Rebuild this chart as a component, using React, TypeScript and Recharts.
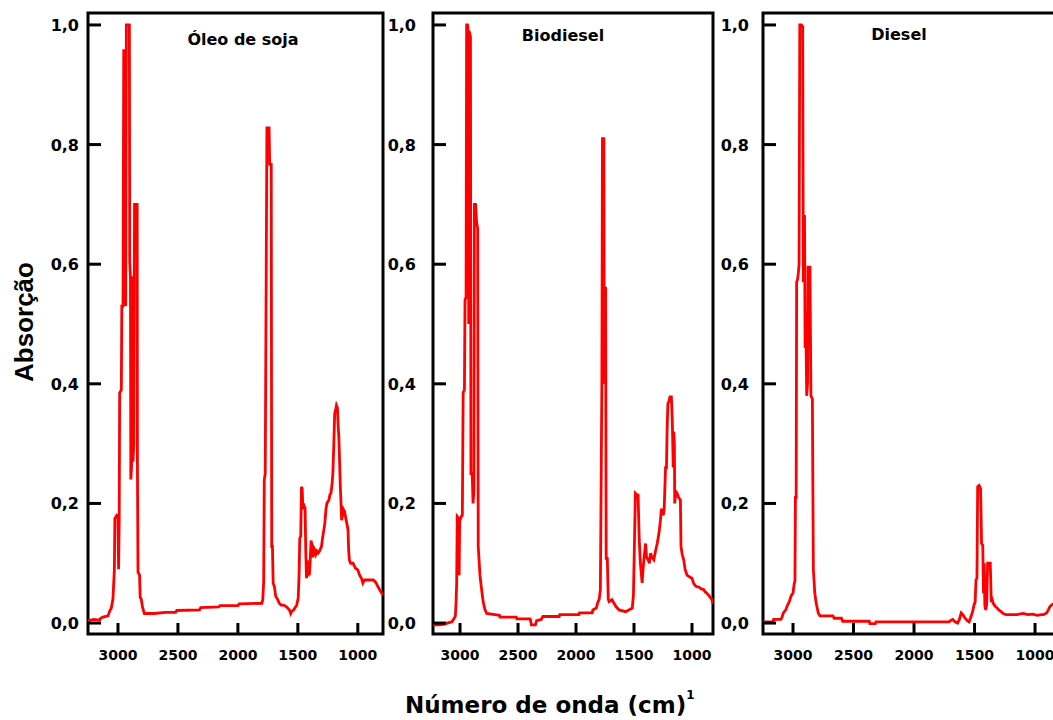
import { LineChart, Line, XAxis, YAxis, ReferenceArea } from "recharts";

type Pt = [number, number];

// wavenumber (cm-1), absorbance
const soyPoints: Pt[] = [
  [3250, 0.004], [3200, 0.006], [3153, 0.005], [3145, 0.008], [3125, 0.01], [3083, 0.012],
  [3069, 0.02], [3056, 0.025], [3042, 0.04], [3030, 0.09], [3026, 0.175], [3010, 0.18],
  [3000, 0.178], [2995, 0.09], [2990, 0.17], [2986, 0.385], [2972, 0.39], [2968, 0.53],
  [2958, 0.53], [2952, 0.957], [2940, 0.957], [2936, 0.53], [2930, 1.0], [2905, 1.0],
  [2902, 0.605], [2896, 0.58], [2893, 0.24], [2887, 0.26], [2884, 0.58], [2878, 0.56],
  [2875, 0.27], [2868, 0.3], [2862, 0.7], [2840, 0.7], [2838, 0.27], [2833, 0.085],
  [2820, 0.08], [2815, 0.043], [2806, 0.04], [2795, 0.026], [2780, 0.016], [2700, 0.016],
  [2600, 0.018], [2520, 0.018], [2510, 0.021], [2320, 0.022], [2310, 0.026], [2160, 0.027],
  [2150, 0.029], [2000, 0.029], [1990, 0.032], [1800, 0.033], [1792, 0.04], [1785, 0.07],
  [1780, 0.24], [1772, 0.25], [1766, 0.5], [1758, 0.828], [1740, 0.828], [1735, 0.767],
  [1722, 0.767], [1718, 0.128], [1712, 0.128], [1706, 0.067], [1695, 0.06], [1685, 0.045],
  [1670, 0.04], [1655, 0.033], [1640, 0.03], [1620, 0.03], [1600, 0.028], [1585, 0.025],
  [1570, 0.022], [1560, 0.016], [1550, 0.02], [1535, 0.022], [1525, 0.025], [1510, 0.03],
  [1497, 0.042], [1490, 0.08], [1484, 0.142], [1476, 0.145], [1470, 0.228], [1464, 0.225],
  [1458, 0.19], [1452, 0.2], [1446, 0.19], [1440, 0.195], [1434, 0.12], [1428, 0.075],
  [1422, 0.105], [1416, 0.078], [1410, 0.09], [1404, 0.08], [1398, 0.1], [1390, 0.138],
  [1382, 0.13], [1374, 0.11], [1366, 0.125], [1358, 0.122], [1350, 0.115], [1340, 0.12],
  [1331, 0.117], [1320, 0.12], [1310, 0.125], [1303, 0.128], [1292, 0.145], [1284, 0.155],
  [1275, 0.167], [1266, 0.19], [1258, 0.2], [1250, 0.203], [1242, 0.205], [1232, 0.215],
  [1224, 0.217], [1216, 0.23], [1208, 0.25], [1200, 0.3], [1193, 0.35], [1186, 0.355],
  [1178, 0.364], [1170, 0.36], [1164, 0.33], [1158, 0.31], [1152, 0.27], [1146, 0.228],
  [1140, 0.2], [1135, 0.172], [1128, 0.18], [1120, 0.19], [1110, 0.186], [1100, 0.175],
  [1090, 0.165], [1082, 0.156], [1076, 0.12], [1070, 0.105], [1060, 0.1], [1040, 0.1],
  [1020, 0.092], [1000, 0.089], [985, 0.08], [970, 0.075], [958, 0.067], [945, 0.072],
  [900, 0.072], [870, 0.072], [850, 0.068], [833, 0.061], [815, 0.055], [800, 0.05],
  [790, 0.047],
];

const biodieselPoints: Pt[] = [
  [3233, -0.003], [3180, -0.003], [3130, -0.002], [3110, 0.0], [3070, 0.002], [3050, 0.008],
  [3040, 0.012], [3034, 0.036], [3029, 0.066], [3024, 0.178], [3012, 0.175], [3008, 0.08],
  [3003, 0.17], [2990, 0.178], [2980, 0.18], [2973, 0.385], [2962, 0.39], [2957, 0.54],
  [2948, 0.545], [2943, 1.0], [2935, 1.0], [2930, 0.99], [2925, 0.5], [2921, 0.99],
  [2910, 0.98], [2906, 0.25], [2895, 0.25], [2888, 0.2], [2880, 0.22], [2876, 0.7],
  [2866, 0.7], [2857, 0.67], [2848, 0.66], [2843, 0.128], [2828, 0.08], [2814, 0.056],
  [2800, 0.035], [2786, 0.023], [2770, 0.016], [2700, 0.014], [2660, 0.013], [2655, 0.01],
  [2515, 0.01], [2510, 0.007], [2395, 0.007], [2385, -0.003], [2350, -0.003], [2340, 0.004],
  [2300, 0.006], [2286, 0.011], [2145, 0.011], [2140, 0.014], [1975, 0.014], [1970, 0.017],
  [1860, 0.017], [1855, 0.022], [1825, 0.025], [1815, 0.033], [1800, 0.04], [1790, 0.056],
  [1782, 0.27], [1777, 0.4], [1772, 0.81], [1760, 0.81], [1756, 0.4], [1752, 0.56],
  [1745, 0.56], [1740, 0.108], [1730, 0.108], [1722, 0.04], [1715, 0.036], [1690, 0.039],
  [1657, 0.028], [1629, 0.022], [1572, 0.019], [1515, 0.025], [1505, 0.047], [1488, 0.217],
  [1478, 0.215], [1465, 0.214], [1455, 0.139], [1445, 0.1], [1430, 0.067], [1422, 0.09],
  [1415, 0.106], [1400, 0.133], [1392, 0.11], [1378, 0.106], [1368, 0.1], [1357, 0.117],
  [1345, 0.11], [1329, 0.106], [1315, 0.12], [1300, 0.133], [1285, 0.15], [1272, 0.172],
  [1265, 0.189], [1258, 0.189], [1248, 0.18], [1240, 0.19], [1235, 0.22], [1228, 0.26],
  [1220, 0.26], [1215, 0.32], [1208, 0.367], [1200, 0.37], [1190, 0.378], [1178, 0.378],
  [1170, 0.34], [1162, 0.26], [1158, 0.32], [1152, 0.3], [1149, 0.2], [1140, 0.22],
  [1129, 0.217], [1115, 0.21], [1100, 0.206], [1095, 0.128], [1085, 0.115], [1072, 0.106],
  [1060, 0.09], [1043, 0.08], [1020, 0.077], [1000, 0.075], [985, 0.066], [970, 0.062],
  [958, 0.061], [940, 0.06], [920, 0.057], [900, 0.056], [885, 0.052], [872, 0.05],
  [850, 0.045], [829, 0.039], [819, 0.032],
];

const dieselPoints: Pt[] = [
  [3248, 0.002], [3165, 0.002], [3160, 0.006], [3100, 0.006], [3090, 0.01], [3080, 0.017],
  [3060, 0.022], [3045, 0.03], [3030, 0.036], [3015, 0.046], [3000, 0.05], [2990, 0.066],
  [2984, 0.07], [2980, 0.21], [2974, 0.21], [2970, 0.57], [2962, 0.575], [2956, 0.585],
  [2950, 0.6], [2944, 1.0], [2930, 1.0], [2920, 0.997], [2915, 0.57], [2911, 0.68],
  [2905, 0.68], [2900, 0.46], [2895, 0.52], [2887, 0.38], [2880, 0.4], [2876, 0.595],
  [2860, 0.595], [2852, 0.38], [2840, 0.375], [2832, 0.09], [2820, 0.05], [2810, 0.035],
  [2800, 0.025], [2790, 0.016], [2777, 0.012], [2670, 0.012], [2660, 0.008], [2600, 0.008],
  [2590, 0.003], [2370, 0.003], [2365, -0.001], [2320, -0.001], [2315, 0.002], [1710, 0.002],
  [1700, 0.004], [1680, 0.006], [1660, 0.002], [1640, 0.0], [1625, 0.006], [1610, 0.017],
  [1600, 0.015], [1590, 0.012], [1578, 0.008], [1560, 0.004], [1545, 0.002], [1530, 0.01],
  [1515, 0.02], [1505, 0.03], [1495, 0.035], [1488, 0.072], [1480, 0.075], [1474, 0.228],
  [1462, 0.23], [1450, 0.225], [1442, 0.133], [1432, 0.13], [1426, 0.05], [1420, 0.1],
  [1415, 0.03], [1408, 0.022], [1400, 0.03], [1392, 0.1], [1380, 0.1], [1370, 0.1],
  [1362, 0.035], [1355, 0.04], [1345, 0.033], [1330, 0.028], [1317, 0.026], [1300, 0.022],
  [1280, 0.019], [1262, 0.016], [1240, 0.014], [1207, 0.014], [1150, 0.014], [1100, 0.016],
  [1060, 0.014], [1020, 0.015], [980, 0.013], [950, 0.014], [930, 0.014], [905, 0.017],
  [890, 0.022], [876, 0.028], [850, 0.032], [820, 0.036], [802, 0.04],
];

const X_TICKS = [3000, 2500, 2000, 1500, 1000];
const Y_TICKS = [0, 0.2, 0.4, 0.6, 0.8, 1.0];
const Y_DOMAIN: [number, number] = [-0.0183, 1.02];

const PLOT_TOP = 13;
const PLOT_H = 621;
const MARGIN_T = 5;
const MARGIN_R = 5;
const Y_AXIS_W = 50;
const X_AXIS_H = 40;
const CHART_H = MARGIN_T + PLOT_H + X_AXIS_H;

const TICK_FONT = "'DejaVu Sans', sans-serif";

function XTick({ x, y, payload }: any) {
  return (
    <g>
      <line x1={x} y1={y} x2={x} y2={y - 11} stroke="#000" strokeWidth={3} />
      <text x={x} y={y + 26} textAnchor="middle" fontFamily={TICK_FONT} fontWeight="bold" fontSize={14} fill="#000">
        {payload.value}
      </text>
    </g>
  );
}

function YTick({ x, y, payload, gap }: any) {
  return (
    <g>
      <line x1={x} y1={y} x2={x + 13} y2={y} stroke="#000" strokeWidth={3} />
      <text x={x - gap} y={y + 6} textAnchor="end" fontFamily={TICK_FONT} fontWeight="bold" fontSize={16} fill="#000">
        {Number(payload.value).toFixed(1).replace(".", ",")}
      </text>
    </g>
  );
}

function Panel({
  points,
  xMin,
  xMax,
  plotLeft,
  plotWidth,
  labelGap,
}: {
  points: Pt[];
  xMin: number;
  xMax: number;
  plotLeft: number;
  plotWidth: number;
  labelGap: number;
}) {
  const data = points.map(([wn, a]) => ({ wn, a }));
  return (
    <div style={{ position: "absolute", left: plotLeft - Y_AXIS_W, top: PLOT_TOP - MARGIN_T }}>
      <LineChart
        width={Y_AXIS_W + plotWidth + MARGIN_R}
        height={CHART_H}
        data={data}
        margin={{ top: MARGIN_T, right: MARGIN_R, bottom: 0, left: 0 }}
      >
        <XAxis
          dataKey="wn"
          type="number"
          domain={[xMin, xMax]}
          reversed
          allowDataOverflow
          ticks={X_TICKS}
          interval={0}
          height={X_AXIS_H}
          axisLine={false}
          tickLine={false}
          tickSize={0}
          tickMargin={0}
          tick={(p: any) => <XTick {...p} />}
        />
        <YAxis
          type="number"
          domain={Y_DOMAIN}
          allowDataOverflow
          ticks={Y_TICKS}
          interval={0}
          width={Y_AXIS_W}
          axisLine={false}
          tickLine={false}
          tickSize={0}
          tickMargin={0}
          tick={(p: any) => <YTick {...p} gap={labelGap} />}
        />
        <ReferenceArea
          x1={xMin}
          x2={xMax}
          y1={Y_DOMAIN[0]}
          y2={Y_DOMAIN[1]}
          fill="none"
          stroke="#000"
          strokeWidth={3}
        />
        <Line
          dataKey="a"
          type="linear"
          stroke="#ff0000"
          strokeWidth={2.8}
          dot={false}
          activeDot={false}
          isAnimationActive={false}
        />
      </LineChart>
    </div>
  );
}

export default function App() {
  return (
    <div
      style={{
        position: "fixed",
        left: 0,
        top: 0,
        width: 1053,
        height: 720,
        overflow: "hidden",
        background: "#fff",
      }}
    >
      <Panel points={soyPoints} xMin={790} xMax={3250} plotLeft={88} plotWidth={295} labelGap={9} />
      <Panel points={biodieselPoints} xMin={819} xMax={3233} plotLeft={433} plotWidth={280} labelGap={17} />
      <Panel points={dieselPoints} xMin={802} xMax={3248} plotLeft={763} plotWidth={296} labelGap={14} />
      <svg
        width={1053}
        height={720}
        style={{ position: "absolute", left: 0, top: 0, pointerEvents: "none" }}
      >
        <g fontFamily={TICK_FONT} fontWeight="bold" fontSize={16} fill="#000" textAnchor="middle">
          <text x={243} y={45}>Óleo de soja</text>
          <text x={563} y={41}>Biodiesel</text>
          <text x={899} y={40}>Diesel</text>
        </g>
        <text
          x={33}
          y={322}
          transform="rotate(-90 33 322)"
          textAnchor="middle"
          fontFamily="'Liberation Sans', Arial, sans-serif"
          fontWeight="bold"
          fontSize={26}
          fill="#000"
        >
          Absorção
        </text>
        <text x={405} y={713} fontFamily={TICK_FONT} fontWeight="bold" fontSize={23} fill="#000">
          Número de onda (cm)
          <tspan dy={-14} fontSize={12}>1</tspan>
        </text>
      </svg>
    </div>
  );
}
